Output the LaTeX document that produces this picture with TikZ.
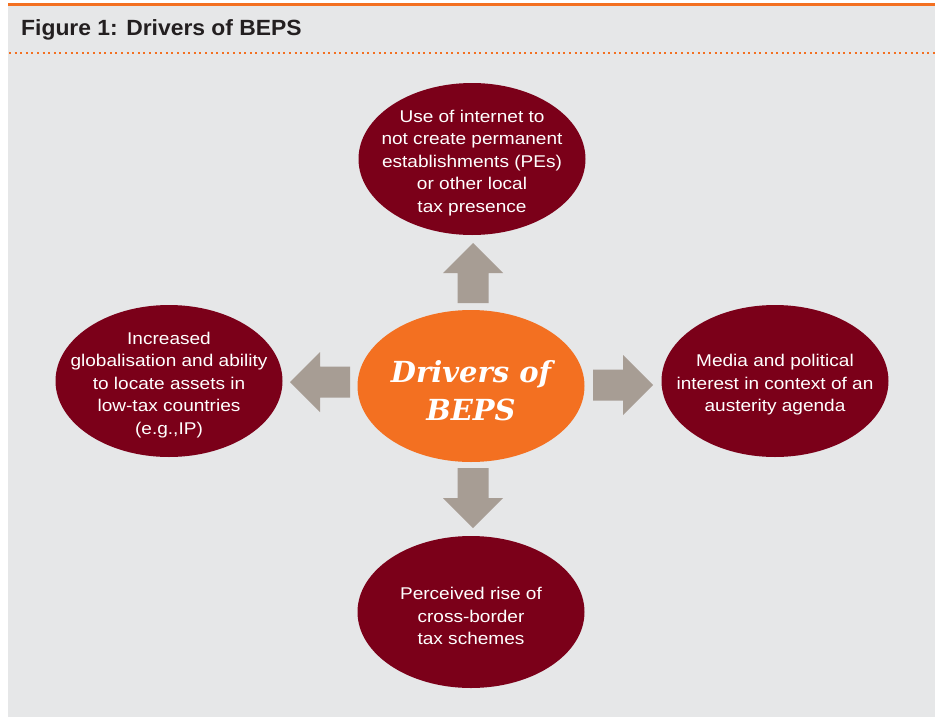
\documentclass[tikz,border=0pt]{standalone}
\usepackage{fontspec}
\setmainfont{Liberation Sans}
\newfontfamily\titlefont[FakeStretch=1.04]{Liberation Sans}
\newfontfamily\bodyfont[FakeStretch=1.12]{Liberation Sans}
\newfontfamily\hubfont{DejaVu Serif}
\usetikzlibrary{shapes.geometric}
\definecolor{bggray}{HTML}{E6E7E8}
\definecolor{darkred}{HTML}{7B0019}
\definecolor{hubor}{HTML}{F37021}
\definecolor{arrowgray}{HTML}{A79D94}
\definecolor{titletext}{HTML}{231F20}
\tikzset{
  outer/.style={ellipse, fill=darkred, minimum width=227pt, minimum height=152pt, inner sep=0pt},
  hub/.style={ellipse, fill=hubor, minimum width=227pt, minimum height=152pt, inner sep=0pt},
  outtxt/.style={align=center, text=white, inner sep=0pt, font=\bodyfont\fontsize{17}{22.5}\selectfont},
  hubtxt/.style={align=center, text=white, inner sep=0pt, font=\hubfont\bfseries\itshape\fontsize{29}{38}\selectfont},
  pics/blockarrow/.style={code={
    \fill[arrowgray] (0,-15.5) -- (30,-15.5) -- (30,-30) -- (60,0) -- (30,30) -- (30,15.5) -- (0,15.5) -- cycle;}}
}
\begin{document}
\begin{tikzpicture}[x=1pt, y=-1pt]
\useasboundingbox (0,0) rectangle (935,718);
\fill[white] (0,0) rectangle (935,718);
\fill[bggray] (8,5) rectangle (935,717);
\draw[hubor, line width=3pt] (8,4.5) -- (935,4.5);
\draw[hubor, line width=2pt, dash pattern=on 2pt off 3.6pt] (9,52.5) -- (935,52.5);
\node[anchor=base west, inner sep=0pt, text=titletext, font=\titlefont\bfseries\fontsize{22}{26}\selectfont] (title) at (21,35) {Figure 1: Drivers of BEPS};

\node[hub] (center) at (471,386) {};
\node[hubtxt] at ([yshift=-5pt]center) {Drivers of\\BEPS};

\node[outer] (top) at (472,159) {};
\node[outtxt] at ([yshift=-4pt]top) {Use of internet to\\not create permanent\\establishments (PEs)\\or other local\\tax presence};

\node[outer] (left) at (169,381) {};
\node[outtxt] at ([yshift=-4pt]left) {Increased\\globalisation and ability\\to locate assets in\\low-tax countries\\(e.g.,IP)};

\node[outer] (right) at (775,381) {};
\node[outtxt] at ([yshift=-4pt]right) {Media and political\\interest in context of an\\austerity agenda};

\node[outer] (bottom) at (471,612) {};
\node[outtxt] at ([yshift=-4pt]bottom) {Perceived rise of\\cross-border\\tax schemes};

\pic[rotate=90] at (473,303) {blockarrow};
\pic[rotate=180] at (350,382) {blockarrow};
\pic[rotate=0] at (593,385) {blockarrow};
\pic[rotate=-90] at (473,468) {blockarrow};
\end{tikzpicture}
\end{document}
